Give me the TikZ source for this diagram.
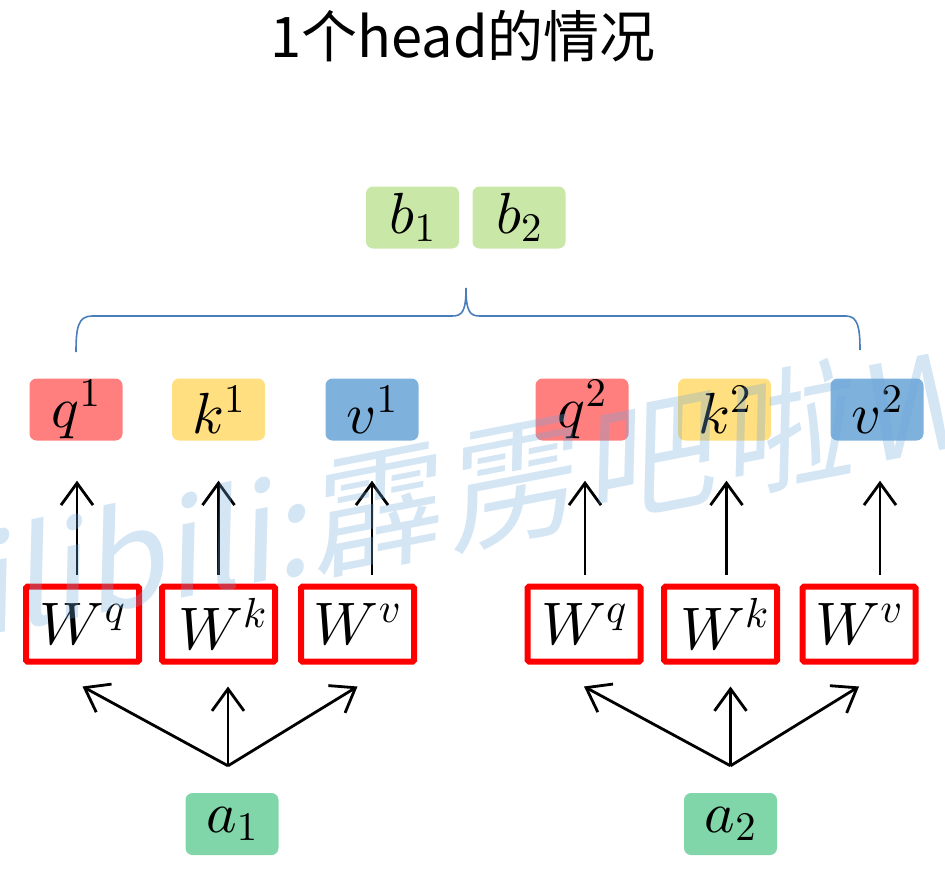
\documentclass[tikz,border=0pt]{standalone}
\usepackage{fontspec}
\DeclareFontShape{OML}{cmm}{m}{it}{<->cmmi10}{}
\DeclareFontShape{OT1}{cmr}{m}{n}{<->cmr10}{}
\DeclareFontShape{OMS}{cmsy}{m}{n}{<->cmsy10}{}
\newfontfamily\cjk{Noto Sans CJK SC}
\usetikzlibrary{arrows.meta}
\definecolor{qred}{RGB}{255,127,127}
\definecolor{kyel}{RGB}{255,223,128}
\definecolor{vblue}{RGB}{126,178,221}
\definecolor{bgreen}{RGB}{201,231,167}
\definecolor{agreen}{RGB}{128,214,169}
\definecolor{braceblue}{RGB}{74,126,187}
\definecolor{wmblue}{RGB}{111,168,220}
\tikzset{
  vbox/.style={rounded corners=7pt, minimum width=93pt, minimum height=62pt, inner sep=0pt, font=\fontsize{58}{60}\selectfont},
  wbox/.style={draw=red, line width=6pt, minimum width=113pt, minimum height=75pt, rounded corners=1.5pt, inner sep=0pt, font=\fontsize{60}{62}\selectfont},
  arr/.style={line width=2.8pt, -{Straight Barb[length=22pt,width=32pt,line width=2.8pt]}},
  wm/.style={text=wmblue, opacity=0.3, inner sep=0pt, transform shape, font=\cjk\fontsize{132}{140}\selectfont}
}
\begin{document}
\begin{tikzpicture}[x=1pt,y=-1pt]
\useasboundingbox (0,0) rectangle (945,868);
\clip (0,0) rectangle (945,868);

% title
\node[anchor=base, font=\cjk\fontsize{56}{60}\selectfont, inner sep=0pt] (title) at (463,57) {1个head的情况};

% outputs
\node[vbox, fill=bgreen] (b1) at (412.5,217.5) {$b_1$};
\node[vbox, fill=bgreen] (b2) at (519,217.5) {$b_2$};

% brace
\draw[braceblue, line width=1.6pt] (76,352) .. controls (76,328) and (78,316) .. (92,316) -- (452,316) .. controls (462,316) and (466,312) .. (466,288) .. controls (466,312) and (470,316) .. (480,316) -- (846,316) .. controls (858,316) and (860,328) .. (860,350);

% q k v
\node[vbox, fill=qred]  (q1) at (76,409.5)  {$q^1$};
\node[vbox, fill=kyel]  (k1) at (218.5,409.5) {$k^1$};
\node[vbox, fill=vblue] (v1) at (372,409.5) {$v^1$};
\node[vbox, fill=qred]  (q2) at (582,409.5) {$q^2$};
\node[vbox, fill=kyel]  (k2) at (724.5,409.5) {$k^2$};
\node[vbox, fill=vblue] (v2) at (877,409.5) {$v^2$};

% W boxes
\node[wbox] (wq1) at (82.5,624)  {$W^q$};
\node[wbox] (wk1) at (218.5,624) {\raisebox{-6pt}{\hspace{8pt}$W^k$}};
\node[wbox] (wv1) at (357.5,624) {$W^v$};
\node[wbox] (wq2) at (584,624)   {$W^q$};
\node[wbox] (wk2) at (720.5,624) {\raisebox{-6pt}{\hspace{8pt}$W^k$}};
\node[wbox] (wv2) at (859,624)   {$W^v$};

% inputs
\node[vbox, fill=agreen] (a1) at (232,824) {$a_1$};
\node[vbox, fill=agreen] (a2) at (730.5,824) {$a_2$};

% up arrows W -> q k v
\draw[arr, shorten <=9pt, shorten >=40pt] ([xshift=1pt]q1 |- wq1.north) -- ([xshift=1pt]q1.south);
\draw[arr, shorten <=9pt, shorten >=40pt] (k1 |- wk1.north) -- (k1.south);
\draw[arr, shorten <=9pt, shorten >=40pt] (v1 |- wv1.north) -- (v1.south);
\draw[arr, shorten <=9pt, shorten >=40pt] ([xshift=3pt]q2 |- wq2.north) -- ([xshift=3pt]q2.south);
\draw[arr, shorten <=9pt, shorten >=40pt] ([xshift=2pt]k2 |- wk2.north) -- ([xshift=2pt]k2.south);
\draw[arr, shorten <=9pt, shorten >=40pt] ([xshift=3pt]v2 |- wv2.north) -- ([xshift=3pt]v2.south);

% fan arrows a -> W
\coordinate (f1) at ([xshift=-4pt,yshift=27pt]a1.north);
\coordinate (f2) at ([yshift=27pt]a2.north);
\draw[arr] (f1) -- ([yshift=-22pt]wq1.south);
\draw[arr] (f1) -- ([yshift=-22pt]f1 |- wk1.south);
\draw[arr] (f1) -- ([yshift=-22pt]wv1.south);
\draw[arr] (f2) -- ([yshift=-22pt]wq2.south);
\draw[arr] (f2) -- ([yshift=-22pt]f2 |- wk2.south);
\draw[arr] (f2) -- ([yshift=-22pt]wv2.south);

% watermark
\node[wm, anchor=base west, rotate=11, xslant=0.22] (wm2) at (314,572) {霹\hspace{0.06em}雳\hspace{0.06em}吧\hspace{0.06em}啦\hspace{0.06em}Wz};
\node[wm, anchor=base east, rotate=11, xslant=0.22] (wm1) at (wm2.base west) {bilibili:\hspace{0.3em}};
\end{tikzpicture}
\end{document}
